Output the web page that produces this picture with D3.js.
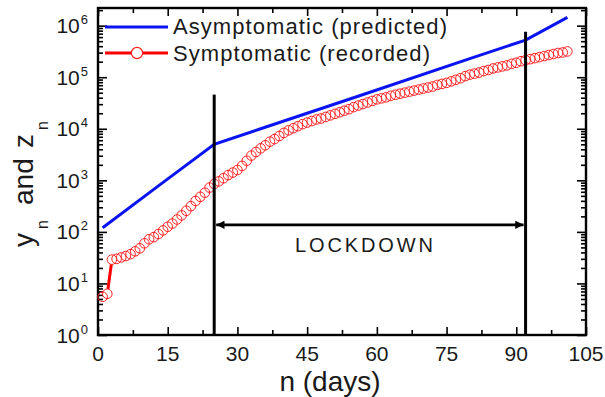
<!DOCTYPE html>
<html>
<head>
<meta charset="utf-8">
<script src="https://cdn.jsdelivr.net/npm/d3@7"></script>
<style>
  body { margin: 0; background: #fff; }
  svg { display: block; }
  text { font-family: Arial, "Liberation Sans", sans-serif; fill: #1a1a1a; }
</style>
</head>
<body>
<svg id="chart" width="605" height="397"></svg>
<script>
// recorded symptomatic cases, day 1 .. 101
const recorded = [
  5.5, 6.3, 29, 30, 32, 34, 37, 42, 48, 60,
  72, 79, 91, 107, 126, 145, 174, 209, 257, 316,
  398, 479, 575, 724, 851, 955, 1096, 1259, 1413, 1585,
  1905, 2399, 3020, 3548, 4169, 4786, 5623, 6310, 7244, 8318,
  9333, 10233, 11220, 12303, 13183, 14125, 15136, 15849, 16982, 18197,
  19498, 20893, 22387, 23988, 26303, 28184, 30200, 32359, 34674, 37154,
  38905, 40738, 43652, 45709, 47863, 50119, 52481, 54954, 57544, 60256,
  63096, 66069, 70795, 74131, 77625, 83176, 89125, 95499, 104713, 112202,
  117490, 123027, 131826, 138038, 147911, 154882, 162181, 169824, 181970, 190546,
  204174, 213796, 223872, 234423, 245471, 257040, 269153, 281838, 295121, 301995, 316228
];
// predicted asymptomatic (read at a few days)
const predictedDays = [1, 13, 25, 35, 55, 80, 92, 101];
const predicted = [120, 780, 5000, 10000, 40000, 230000, 525000, 1450000];

const xTicks = [0, 15, 30, 45, 60, 75, 90, 105];
const xMinor = [7.5, 22.5, 37.5, 52.5, 67.5, 82.5, 97.5];
const yExp = [0, 1, 2, 3, 4, 5, 6];

// lockdown markers: day, top of the line (data units)
const lockdownDays = [25, 92];
const lockdownTops = [46000, 760000];
const arrowLevel = 137;

const svg = d3.select('#chart');
const pLeft = 98, pRight = 586, pTop = 8, pBottom = 335;

const x = d3.scaleLinear().domain([0, 105]).range([pLeft, pRight]);
const y = d3.scaleLog().domain([1, 2.2e6]).range([pBottom, pTop]);

// minor log ticks 2..9 in every decade
const yMinor = [];
yExp.forEach((e) => {
  for (let k = 2; k <= 9; k++) {
    const v = k * Math.pow(10, e);
    if (v < 2.2e6) yMinor.push(v);
  }
});

// 坐标轴：刻度朝内，四边都有
const g = svg.append('g');
const tickStyle = (sel) => {
  sel.select('.domain').remove();
  sel.selectAll('line').attr('stroke', '#000').attr('stroke-width', 1.6);
};
g.append('g').attr('transform', `translate(0,${pBottom})`)
  .call(d3.axisBottom(x).tickValues(xTicks).tickSize(-8).tickFormat('')).call(tickStyle);
g.append('g').attr('transform', `translate(0,${pBottom})`)
  .call(d3.axisBottom(x).tickValues(xMinor).tickSize(-5).tickFormat('')).call(tickStyle);
g.append('g').attr('transform', `translate(0,${pTop})`)
  .call(d3.axisTop(x).tickValues(xTicks).tickSize(-8).tickFormat('')).call(tickStyle);
g.append('g').attr('transform', `translate(0,${pTop})`)
  .call(d3.axisTop(x).tickValues(xMinor).tickSize(-5).tickFormat('')).call(tickStyle);

const yMajor = yExp.map((e) => Math.pow(10, e));
g.append('g').attr('transform', `translate(${pLeft},0)`)
  .call(d3.axisLeft(y).tickValues(yMajor).tickSize(-9).tickFormat('')).call(tickStyle);
g.append('g').attr('transform', `translate(${pLeft},0)`)
  .call(d3.axisLeft(y).tickValues(yMinor).tickSize(-5).tickFormat('')).call(tickStyle);
g.append('g').attr('transform', `translate(${pRight},0)`)
  .call(d3.axisRight(y).tickValues(yMajor).tickSize(-9).tickFormat('')).call(tickStyle);
g.append('g').attr('transform', `translate(${pRight},0)`)
  .call(d3.axisRight(y).tickValues(yMinor).tickSize(-5).tickFormat('')).call(tickStyle);

// x tick labels
svg.append('g').selectAll('text').data(xTicks).enter().append('text')
  .attr('x', (d) => x(d))
  .attr('y', pBottom + 26)
  .attr('text-anchor', 'middle')
  .attr('font-size', 21)
  .text((d) => d);

// y tick labels 10^e
yExp.forEach((e) => {
  const t = svg.append('text')
    .attr('x', 88)
    .attr('y', y(Math.pow(10, e)) + 7.5)
    .attr('text-anchor', 'end')
    .attr('font-size', 21);
  t.append('tspan').text('10');
  t.append('tspan').attr('font-size', 13).attr('dx', 1).attr('dy', -9).text(e);
});

// axis titles
svg.append('text')
  .attr('x', (pLeft + pRight) / 2 - 12)
  .attr('y', 391)
  .attr('text-anchor', 'middle')
  .attr('font-size', 28)
  .text('n (days)');

const yt = svg.append('text')
  .attr('transform', 'translate(33,247) rotate(-90)')
  .attr('font-size', 28);
yt.append('tspan').attr('x', 0).attr('y', 0).text('y');
yt.append('tspan').attr('x', 18).attr('y', 15).attr('font-size', 16).text('n');
yt.append('tspan').attr('x', 42).attr('y', 0).text('and');
yt.append('tspan').attr('x', 99).attr('y', 0).text('z');
yt.append('tspan').attr('x', 117).attr('y', 15).attr('font-size', 16).text('n');

// 框
svg.append('rect')
  .attr('x', pLeft).attr('y', pTop)
  .attr('width', pRight - pLeft).attr('height', pBottom - pTop)
  .attr('fill', 'none').attr('stroke', '#000').attr('stroke-width', 2.4);

// predicted line
const line = d3.line().x((d) => x(d[0])).y((d) => y(d[1]));
svg.append('path')
  .datum(predictedDays.map((d, i) => [d, predicted[i]]))
  .attr('d', line)
  .attr('fill', 'none')
  .attr('stroke', '#0a14f0')
  .attr('stroke-width', 3);

// recorded: line with gaps at the hollow symbols
const r = 4.8;
const pts = recorded.map((v, i) => [x(i + 1), y(v)]);
for (let i = 0; i < pts.length - 1; i++) {
  const [x1, y1] = pts[i];
  const [x2, y2] = pts[i + 1];
  const len = Math.hypot(x2 - x1, y2 - y1);
  if (len <= 2 * r) continue;
  const ux = (x2 - x1) / len, uy = (y2 - y1) / len;
  svg.append('line')
    .attr('x1', x1 + ux * r).attr('y1', y1 + uy * r)
    .attr('x2', x2 - ux * r).attr('y2', y2 - uy * r)
    .attr('stroke', '#ff0000').attr('stroke-width', 3);
}
svg.append('g').selectAll('circle').data(pts).enter().append('circle')
  .attr('cx', (d) => d[0])
  .attr('cy', (d) => d[1])
  .attr('r', r)
  .attr('fill', 'none')
  .attr('stroke', '#ff2020')
  .attr('stroke-width', 1);

// lockdown lines
lockdownDays.forEach((d, i) => {
  svg.append('line')
    .attr('x1', x(d)).attr('x2', x(d))
    .attr('y1', y(lockdownTops[i])).attr('y2', pBottom)
    .attr('stroke', '#000').attr('stroke-width', 3);
});

svg.append('defs').append('marker')
  .attr('id', 'head')
  .attr('viewBox', '0 0 10 10')
  .attr('refX', 10).attr('refY', 5)
  .attr('markerWidth', 3.2).attr('markerHeight', 3.2)
  .attr('orient', 'auto-start-reverse')
  .append('path')
  .attr('d', 'M0,0 L10,5 L0,10 Z')
  .attr('fill', '#000');

svg.append('line')
  .attr('x1', x(lockdownDays[0]) + 2).attr('x2', x(lockdownDays[1]) - 2)
  .attr('y1', y(arrowLevel)).attr('y2', y(arrowLevel))
  .attr('stroke', '#000').attr('stroke-width', 2.6)
  .attr('marker-start', 'url(#head)')
  .attr('marker-end', 'url(#head)');

svg.append('text')
  .attr('x', 295)
  .attr('y', 252)
  .attr('font-size', 20)
  .attr('textLength', 138)
  .attr('lengthAdjust', 'spacing')
  .text('LOCKDOWN');

// legend
svg.append('line')
  .attr('x1', 105).attr('x2', 168).attr('y1', 27).attr('y2', 27)
  .attr('stroke', '#0a14f0').attr('stroke-width', 3);
svg.append('text')
  .attr('x', 173).attr('y', 34)
  .attr('font-size', 22)
  .attr('textLength', 274).attr('lengthAdjust', 'spacing')
  .text('Asymptomatic (predicted)');

svg.append('line')
  .attr('x1', 105).attr('x2', 168).attr('y1', 53).attr('y2', 53)
  .attr('stroke', '#ff0000').attr('stroke-width', 3);
svg.append('circle')
  .attr('cx', 137).attr('cy', 53).attr('r', 5.6)
  .attr('fill', '#fff').attr('stroke', '#ff2020').attr('stroke-width', 1.2);
svg.append('text')
  .attr('x', 173).attr('y', 61)
  .attr('font-size', 22)
  .attr('textLength', 257).attr('lengthAdjust', 'spacing')
  .text('Symptomatic (recorded)');
</script>
</body>
</html>
